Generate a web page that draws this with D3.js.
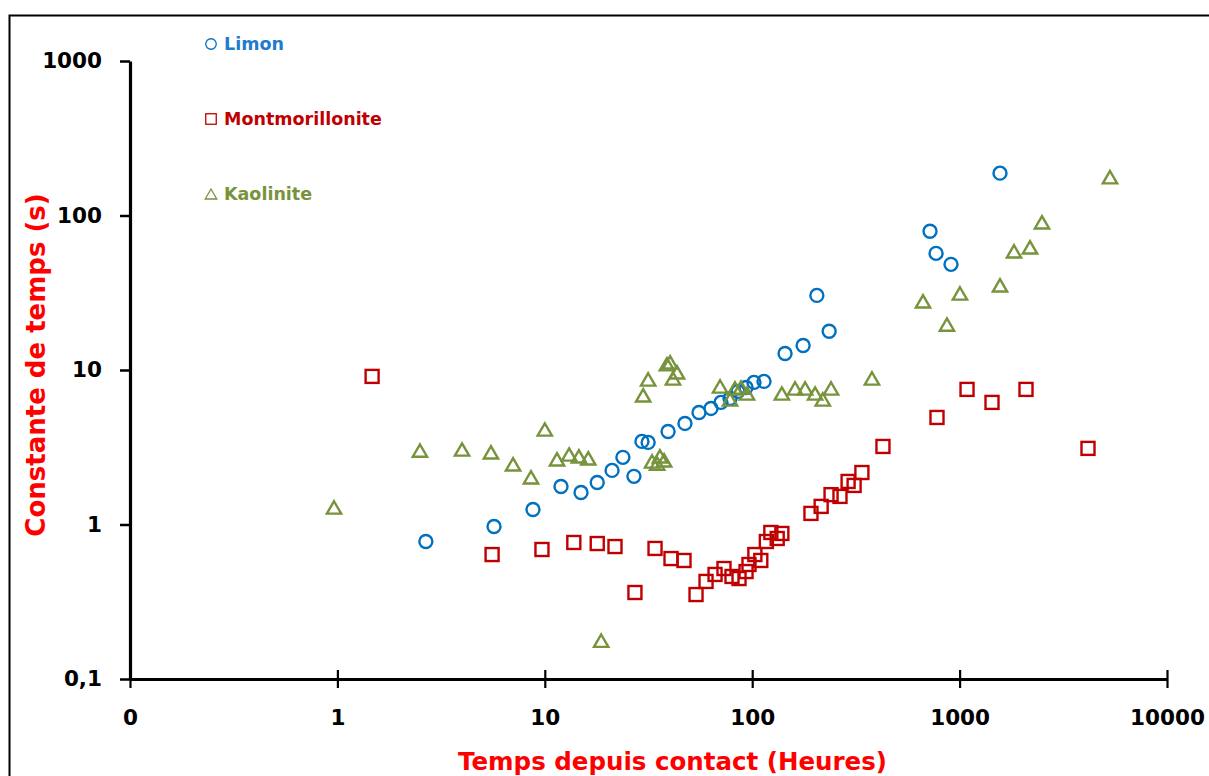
<!DOCTYPE html>
<html>
<head>
<meta charset="utf-8">
<script src="https://cdn.jsdelivr.net/npm/d3@7"></script>
<style>
  html, body { margin: 0; padding: 0; background: #fff; }
  svg { display: block; }
</style>
</head>
<body>
<svg id="chart" width="1209" height="776"></svg>
<script>
// Temps depuis contact (h) / constante de temps (s)
const limonX = [2.67, 5.69, 8.77, 11.97, 14.95, 17.9, 21.1, 23.8, 26.9, 29.4, 31.5, 39.3, 47.4, 55.4, 63.3, 70.7, 78.2, 85.4, 93.4, 102, 114, 144, 176, 205, 235, 720, 770, 909, 1566];
const limonY = [0.776, 0.97, 1.25, 1.76, 1.61, 1.87, 2.24, 2.72, 2.05, 3.45, 3.40, 4.0, 4.51, 5.31, 5.64, 6.17, 6.55, 7.27, 7.71, 8.31, 8.44, 12.8, 14.4, 30.4, 17.8, 79, 56.9, 48.3, 188];

const montX = [1.47, 5.57, 9.69, 13.8, 17.9, 21.8, 27.2, 34.0, 40.6, 46.9, 53.6, 59.9, 66.2, 73.1, 79.9, 86.4, 93.4, 96.5, 103, 110, 117, 123, 132, 139, 192, 215, 240, 265, 290, 310, 338, 427, 778, 1086, 1433, 2090, 4160];
const montY = [9.09, 0.639, 0.689, 0.765, 0.753, 0.72, 0.363, 0.70, 0.602, 0.585, 0.352, 0.428, 0.475, 0.519, 0.461, 0.447, 0.496, 0.551, 0.639, 0.585, 0.776, 0.888, 0.812, 0.875, 1.18, 1.31, 1.56, 1.52, 1.90, 1.79, 2.17, 3.20, 4.93, 7.49, 6.17, 7.49, 3.11];

const kaolX = [0.963, 2.50, 3.99, 5.50, 7.03, 8.58, 10.0, 11.45, 13.1, 14.6, 16.2, 18.7, 29.8, 31.5, 32.9, 34.8, 35.9, 37.6, 38.8, 40.2, 41.5, 43.4, 70.0, 78.2, 82.6, 88.3, 94.4, 139, 161, 180, 201, 219, 240, 378, 666, 869, 1004, 1566, 1829, 2185, 2496, 5310];
const kaolY = [1.29, 3.01, 3.06, 2.93, 2.45, 2.02, 4.12, 2.64, 2.84, 2.76, 2.68, 0.177, 6.85, 8.69, 2.56, 2.48, 2.76, 2.60, 10.9, 11.2, 8.82, 9.65, 7.83, 6.45, 7.60, 7.71, 7.05, 7.05, 7.60, 7.60, 7.05, 6.45, 7.60, 8.82, 27.8, 19.7, 31.3, 35.3, 58.6, 62.2, 90.3, 177];

const xTicks = [0.1, 1, 10, 100, 1000, 10000];
const xTickLabels = ["0", "1", "10", "100", "1000", "10000"];
const yTicks = [0.1, 1, 10, 100, 1000];
const yTickLabels = ["0,1", "1", "10", "100", "1000"];

const seriesNames = ["Limon", "Montmorillonite", "Kaolinite"];
const seriesColors = ["#0070C0", "#C00000", "#77933C"];
const legendText = ["#1f7bd0", "#C00000", "#77933C"];

const FONT = "'DejaVu Sans', sans-serif";

const svg = d3.select("#chart");

// outer frame
svg.append("rect")
  .attr("x", 9.5).attr("y", 15.5).attr("width", 1240).attr("height", 800)
  .attr("fill", "none").attr("stroke", "#000").attr("stroke-width", 2);

const x = d3.scaleLog().domain([0.1, 10000]).range([130, 1167]);
const y = d3.scaleLog().domain([0.1, 1000]).range([679, 61]);

// axes
const xAxis = svg.append("g").attr("transform", `translate(0,${y(0.1)})`)
  .call(d3.axisBottom(x).tickValues(xTicks).tickFormat((d, i) => xTickLabels[i]).tickSizeInner(9).tickSizeOuter(0).tickPadding(22));
xAxis.select(".domain").attr("stroke-width", 3.2);
xAxis.selectAll(".tick line").attr("y1", -9).attr("stroke-width", 2.2);
xAxis.selectAll("text")
  .style("font-family", FONT).style("font-size", "21.5px").style("font-weight", "bold").attr("fill", "#000");

const yAxis = svg.append("g").attr("transform", `translate(${x(0.1)},0)`)
  .call(d3.axisLeft(y).tickValues(yTicks).tickFormat((d, i) => yTickLabels[i]).tickSizeInner(10).tickSizeOuter(0).tickPadding(18));
yAxis.select(".domain").attr("stroke-width", 3.2);
yAxis.selectAll(".tick line").attr("stroke-width", 2.5);
yAxis.selectAll("text")
  .style("font-family", FONT).style("font-size", "21.5px").style("font-weight", "bold").attr("fill", "#000");

// axis titles
svg.append("text")
  .attr("x", (x(0.1) + x(10000)) / 2 + 24).attr("y", 770)
  .attr("text-anchor", "middle")
  .style("font-family", FONT).style("font-size", "24.5px").style("font-weight", "bold")
  .attr("fill", "#ff0000")
  .text("Temps depuis contact (Heures)");

svg.append("text")
  .attr("transform", `translate(45,${(y(0.1) + y(1000)) / 2 - 5}) rotate(-90)`)
  .attr("text-anchor", "middle")
  .style("font-family", FONT).style("font-size", "26px").style("font-weight", "bold")
  .attr("fill", "#ff0000")
  .text("Constante de temps (s)");

// marker shapes
const tri = (w, h) => `M0,${-h / 2}L${w / 2},${h / 2}L${-w / 2},${h / 2}Z`;
function marker(g, kind, color, s, sw) {
  if (kind === 0) {
    g.append("circle").attr("r", s / 2).attr("fill", "none").attr("stroke", color).attr("stroke-width", sw);
  } else if (kind === 1) {
    g.append("rect").attr("x", -s / 2).attr("y", -s / 2).attr("width", s).attr("height", s)
      .attr("fill", "none").attr("stroke", color).attr("stroke-width", sw);
  } else {
    g.append("path").attr("d", tri(s * 1.1, s * 0.95)).attr("fill", "none").attr("stroke", color)
      .attr("stroke-width", sw).attr("stroke-linejoin", "miter");
  }
}

const series = [
  { xs: limonX, ys: limonY },
  { xs: montX, ys: montY },
  { xs: kaolX, ys: kaolY }
];

const plot = svg.append("g");
series.forEach((s, k) => {
  const pts = s.xs.map((v, i) => [v, s.ys[i]]);
  plot.append("g").selectAll("g").data(pts).join("g")
    .attr("transform", d => `translate(${x(d[0])},${y(d[1])})`)
    .each(function () { marker(d3.select(this), k, seriesColors[k], 13, 2.4); });
});

// legend
const legY = [44, 119, 194];
seriesNames.forEach((name, k) => {
  const g = svg.append("g").attr("transform", `translate(211,${legY[k]})`);
  marker(g, k, seriesColors[k], 10.5, 1.3);
  g.append("text")
    .attr("x", 13).attr("y", 0).attr("dy", "0.36em")
    .style("font-family", FONT).style("font-size", "17.5px").style("font-weight", "bold")
    .attr("fill", legendText[k])
    .text(name);
});
</script>
</body>
</html>
